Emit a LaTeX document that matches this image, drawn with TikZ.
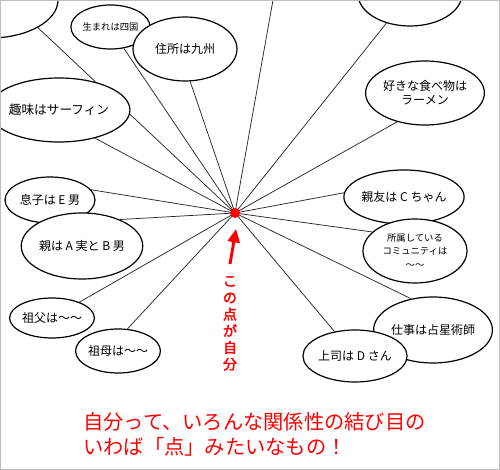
\documentclass[tikz,border=0pt]{standalone}
\usepackage{fontspec}
\setmainfont{Noto Sans CJK JP}
\newfontfamily\jpbold[FakeBold=2.5]{Noto Sans CJK JP}
\usetikzlibrary{shapes.geometric,arrows.meta,backgrounds}
\definecolor{frame}{RGB}{190,190,190}
\tikzset{
  bubble/.style 2 args={ellipse, draw=black, line width=0.9pt, fill=white,
    minimum width=#1*0.75pt, minimum height=#2*0.75pt, inner sep=0pt, align=center,
    font=\fontsize{9}{10.5}\selectfont},
  small/.style={font=\fontsize{7}{10}\selectfont},
  spoke/.style={draw=black!85, line width=0.55pt},
  me/.style={circle, fill=red, minimum size=7.5pt, inner sep=0pt},
  redarrow/.style={draw=red, line width=2.2pt, -{Triangle[length=10pt,width=9pt]}},
  redtext/.style={text=red, inner sep=0pt, align=center},
}
\begin{document}
\begin{tikzpicture}[x=0.75pt,y=-0.75pt]
\useasboundingbox (0,0) rectangle (500,470);
\clip (0,0) rectangle (500,470);

\node[bubble={136}{76}] (tl) at (-10,0) {};
\node[bubble={72}{44}, small] (umare) at (110.5,27) {生まれは四国};
\node[bubble={104}{64}] (jusho) at (185,49) {住所は九州};
\node[bubble={104}{64}, font=\fontsize{9.5}{11}\selectfont] (shumi) at (59,110) {趣味はサーフィン};
\node[bubble={104}{64}] (tr) at (410,-6) {};
\node[bubble={104}{64}] (ramen) at (425,93) {好きな食べ物は\\ラーメン};
\node[bubble={90}{46}] (musuko) at (50,200) {息子は E 男};
\node[bubble={102}{66}] (oya) at (82,246) {親は A 実と B 男};
\node[bubble={72}{40}] (sofu) at (52,318) {祖父は〜〜};
\node[bubble={72}{44}] (sobo) at (118,351) {祖母は〜〜};
\node[bubble={104}{54}] (shinyu) at (404,197) {親友は C ちゃん};
\node[bubble={104}{64}, small] (shozoku) at (415,251) {所属している\\コミュニティは\\〜〜};
\node[bubble={104}{66}] (shigoto) at (433,330) {仕事は占星術師};
\node[bubble={84}{52}] (joshi) at (355,356) {上司は D さん};

\coordinate (topend) at (273,0);
\node[me] (self) at (235,213) {};

\begin{scope}[on background layer]
  \fill[white] (0,0) rectangle (500,470);
  \draw[spoke] (self.center) -- (tl.-30);
  \draw[spoke] (self.center) -- (umare.-58);
  \draw[spoke] (self.center) -- (jusho.-81);
  \draw[spoke] (self.center) -- (shumi.-38);
  \draw[spoke] (self.center) -- (topend);
  \draw[spoke] (self.center) -- (tr.-129);
  \draw[spoke] (self.center) -- (ramen.-134);
  \draw[spoke] (self.center) -- (musuko.14);
  \draw[spoke] (self.center) -- (oya.35);
  \draw[spoke] (self.center) -- (sofu.30);
  \draw[spoke] (self.center) -- (sobo.67);
  \draw[spoke] (self.center) -- (shinyu.176);
  \draw[spoke] (self.center) -- (shozoku.156);
  \draw[spoke] (self.center) -- (shigoto.125);
  \draw[spoke] (self.center) -- (joshi.130);
\end{scope}

\node[redtext, font=\jpbold\fontsize{10.5}{12.5}\selectfont, anchor=north] (selflabel) at (230,276) {こ\\の\\点\\が\\自\\分};
\coordinate (arrowtip) at (236,229);
\coordinate (arrowtail) at (230,264);
\draw[redarrow] (arrowtail) -- (arrowtip);

\node[redtext, anchor=base west, align=left, font=\fontsize{15.2}{18.75}\selectfont] (msg) at (83,455)
  {自分って、いろんな関係性の結び目の\\いわば「点」みたいなもの！};

\draw[frame, line width=1.5pt] (0,0) rectangle (500,470);
\end{tikzpicture}
\end{document}
